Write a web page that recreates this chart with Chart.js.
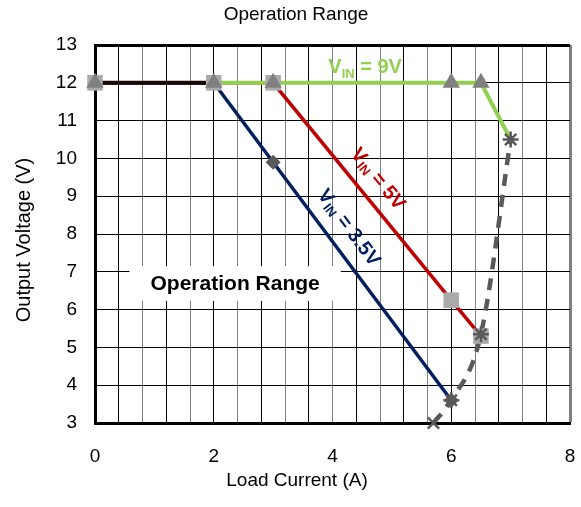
<!DOCTYPE html>
<html>
<head>
<meta charset="utf-8">
<script src="https://cdn.jsdelivr.net/npm/chart.js@4"></script>
<style>
  html, body { margin: 0; padding: 0; background: #fff; }
  #wrap { width: 581px; height: 507px; }
</style>
</head>
<body>
<div id="wrap"><canvas id="chart" width="581" height="507"></canvas></div>
<script>
// values
const vin35Current = [0, 2, 3, 6];
const vin35Voltage = [12, 12, 9.9, 3.6];
const vin5Current = [0, 2, 3, 6, 6.5];
const vin5Voltage = [12, 12, 12, 6.25, 5.3];
const vin9Current = [0, 2, 3, 6, 6.5, 7];
const vin9Voltage = [12, 12, 12, 12, 12, 10.5];
const limitCurrent = [5.7, 6, 6.5, 7];
const limitVoltage = [3, 3.6, 5.35, 10.5];
const xLabelValues = [0, 2, 4, 6, 8];

const FONT = '"Liberation Sans", Arial, sans-serif';
const GREEN = '#92D050', RED = '#C00000', NAVY = '#002060', GREY = '#595959';

function pts(xs, ys) {
    return xs.map((x, i) => ({ x: x, y: ys[i] }));
}

// text overlays: titles, annotations
const overlay = {
    id: 'overlay',
    beforeDatasetsDraw(chart) {
        const ctx = chart.ctx, sx = chart.scales.x, sy = chart.scales.y;
        const x0 = sx.getPixelForValue(0.58), x1 = sx.getPixelForValue(4.14);
        const y0 = sy.getPixelForValue(7.15), y1 = sy.getPixelForValue(6.23);
        ctx.save();
        ctx.fillStyle = '#fff';
        ctx.fillRect(x0, y0, x1 - x0, y1 - y0);
        ctx.fillStyle = '#000';
        ctx.font = 'bold 21px ' + FONT;
        ctx.textAlign = 'center';
        ctx.textBaseline = 'middle';
        ctx.fillText('Operation Range', sx.getPixelForValue(2.36), sy.getPixelForValue(6.68));
        ctx.restore();
    },
    afterDatasetsDraw(chart) {
        const ctx = chart.ctx, sx = chart.scales.x, sy = chart.scales.y;
        const slope = (xa, ya, xb, yb) => Math.atan2(
            sy.getPixelForValue(yb) - sy.getPixelForValue(ya),
            sx.getPixelForValue(xb) - sx.getPixelForValue(xa));

        drawVin(ctx, sx.getPixelForValue(3.93), sy.getPixelForValue(12.26), 0, ' = 9V', GREEN, false);
        drawVin(ctx, sx.getPixelForValue(4.76), sy.getPixelForValue(9.45),
            slope(vin5Current[2], vin5Voltage[2], vin5Current[3], vin5Voltage[3]), ' = 5V', RED, true);
        drawVin(ctx, sx.getPixelForValue(4.27), sy.getPixelForValue(8.16),
            slope(vin35Current[2], vin35Voltage[2], vin35Current[3], vin35Voltage[3]), ' = 3.5V', NAVY, true);
    },
    afterDraw(chart) {
        const ctx = chart.ctx, area = chart.chartArea;
        ctx.save();
        ctx.fillStyle = '#000';
        ctx.textAlign = 'center';
        ctx.textBaseline = 'middle';
        ctx.font = '19px ' + FONT;
        ctx.fillText('Operation Range', 296, 15);
        ctx.fillText('Load Current (A)', 297, 481);
        ctx.translate(24, (area.top + area.bottom) / 2 + 6);
        ctx.rotate(-Math.PI / 2);
        ctx.font = '20px ' + FONT;
        ctx.fillText('Output Voltage (V)', 0, 0);
        ctx.restore();
    }
};

function drawVin(ctx, x, y, angle, rest, color, centered) {
    const big = 'bold 20px ' + FONT, small = 'bold 13px ' + FONT;
    ctx.save();
    ctx.translate(x, y);
    ctx.rotate(angle);
    ctx.fillStyle = color;
    ctx.textBaseline = centered ? 'middle' : 'alphabetic';
    ctx.textAlign = 'left';
    ctx.font = big;
    const wV = ctx.measureText('V').width, wR = ctx.measureText(rest).width;
    ctx.font = small;
    const wIn = ctx.measureText('IN').width;
    let cx = centered ? -(wV + wIn + wR) / 2 : 0;
    ctx.font = big;
    ctx.fillText('V', cx, 0);
    cx += wV;
    ctx.font = small;
    ctx.fillText('IN', cx, 5);
    cx += wIn;
    ctx.font = big;
    ctx.fillText(rest, cx, 0);
    ctx.restore();
}

new Chart(document.getElementById('chart'), {
    type: 'scatter',
    data: {
        datasets: [
            { data: pts(vin5Current, vin5Voltage), showLine: true, borderColor: RED, borderWidth: 3.5,
              pointRadius: 0, order: 9 },
            { data: pts(vin35Current, vin35Voltage), showLine: true, borderColor: NAVY, borderWidth: 3.5,
              pointRadius: 0, order: 8 },
            { data: pts(vin9Current, vin9Voltage), showLine: true, borderColor: GREEN, borderWidth: 4,
              pointRadius: 0, order: 7,
              segment: { borderColor: c => c.p0DataIndex === 0 ? '#1a0505' : GREEN } },
            { data: pts(limitCurrent, limitVoltage), showLine: true, borderColor: GREY, borderWidth: 4.5,
              borderDash: [12, 9], cubicInterpolationMode: 'monotone', pointRadius: 0, order: 6, clip: false },
            // markers on top of the lines
            { data: pts(vin35Current, vin35Voltage), pointStyle: 'rectRot', pointRadius: 7.5,
              backgroundColor: GREY, borderColor: GREY, borderWidth: 0, order: 5, clip: false },
            { data: pts(vin5Current, vin5Voltage), pointStyle: 'rect', pointRadius: 11,
              backgroundColor: '#AAAAAA', borderColor: '#AAAAAA', borderWidth: 0, order: 4, clip: false },
            { data: pts(vin9Current, vin9Voltage), pointStyle: 'triangle',
              pointRadius: vin9Current.map((v, i) => i < vin9Current.length - 1 ? 10 : 0),
              backgroundColor: '#808080', borderColor: '#808080', borderWidth: 0, order: 3, clip: false },
            { data: pts(limitCurrent, limitVoltage), pointStyle: ['crossRot', 'star', 'star', 'star'],
              pointRadius: 8, borderColor: GREY, borderWidth: 2.5, order: 2, clip: false }
        ]
    },
    options: {
        responsive: false,
        animation: false,
        devicePixelRatio: 1,
        layout: { padding: { top: 45, right: 0, left: 0, bottom: 0 } },
        plugins: {
            legend: { display: false },
            tooltip: { enabled: false },
            title: { display: false }
        },
        scales: {
            x: {
                type: 'linear',
                min: 0,
                max: 8,
                afterFit: s => { s.height = 84; s.paddingLeft = 0; s.paddingRight = 0; },
                border: { color: '#000', width: 3 },
                grid: {
                    drawTicks: false,
                    color: c => c.index % 2 === 0 ? '#808080' : '#000',
                    lineWidth: c => c.tick && c.tick.value === 8 ? 3 : 1
                },
                ticks: {
                    stepSize: 0.4,
                    autoSkip: false,
                    maxRotation: 0,
                    padding: 22,
                    color: '#000',
                    font: { family: FONT, size: 19 },
                    callback: v => {
                        const hit = xLabelValues.find(t => Math.abs(t - v) < 1e-6);
                        return hit === undefined ? '' : String(hit);
                    }
                }
            },
            y: {
                min: 3,
                max: 13,
                afterFit: s => { s.width = 95; },
                border: { color: '#000', width: 3 },
                grid: {
                    drawTicks: false,
                    color: '#000',
                    lineWidth: c => c.tick && c.tick.value === 13 ? 3 : 1
                },
                ticks: {
                    stepSize: 1,
                    padding: 18,
                    color: '#000',
                    font: { family: FONT, size: 19 }
                }
            }
        }
    },
    plugins: [overlay]
});
</script>
</body>
</html>
